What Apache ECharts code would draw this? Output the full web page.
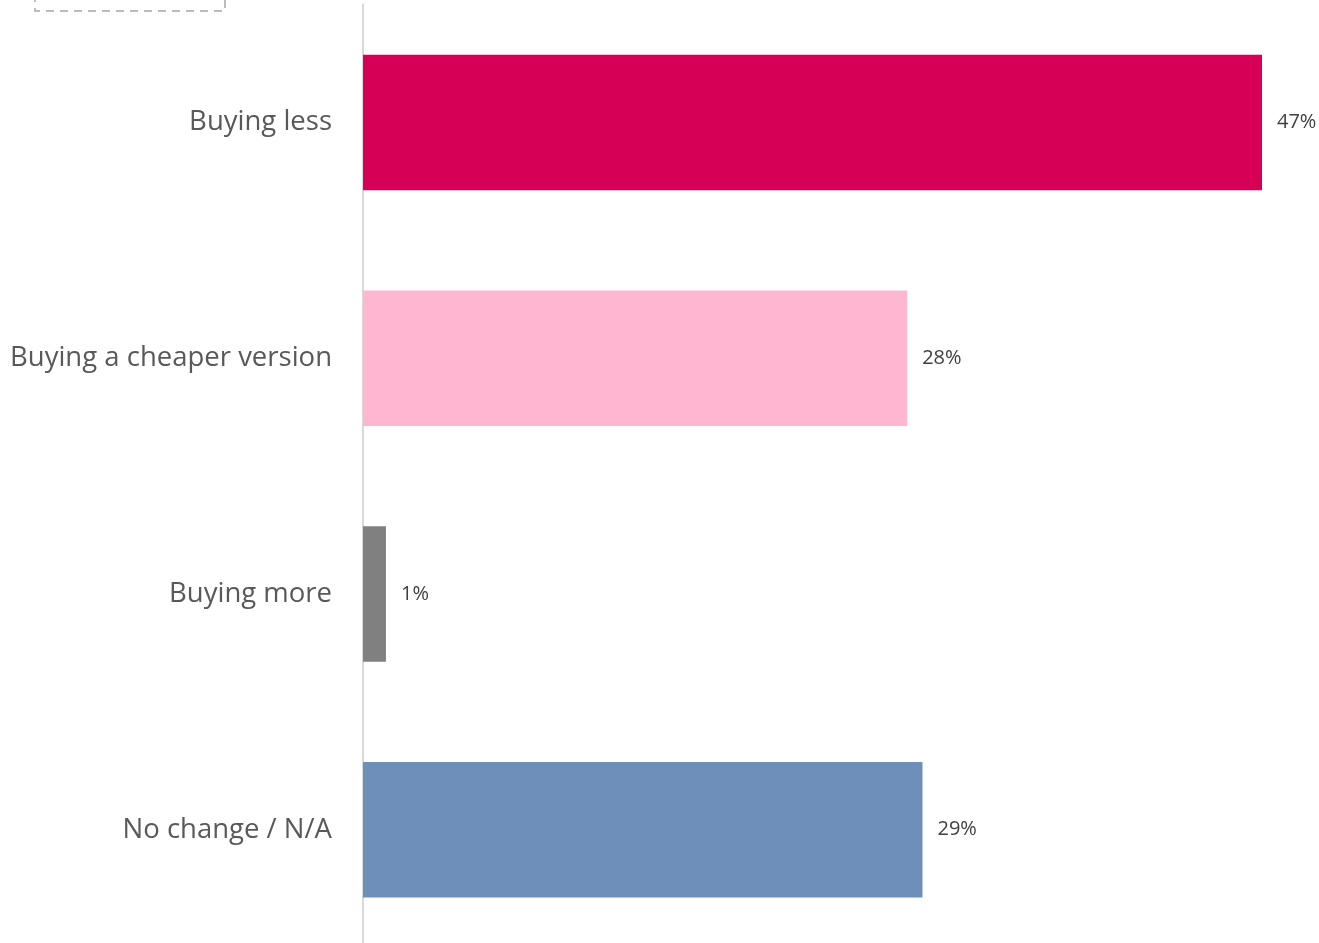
<!DOCTYPE html>
<html lang="en">
<head>
    <meta charset="UTF-8">
    <title>Buying behaviour</title>
    <script src="https://cdn.jsdelivr.net/npm/echarts@6/dist/echarts.min.js"></script>
    <style>
        html, body { margin: 0; padding: 0; background: #fff; overflow: hidden; }
    </style>
</head>
<body>
    <div id="main" style="width: 1319px;height:960px;"></div>

    <script type="text/javascript">
        // categories top to bottom
        const categories = ['Buying less', 'Buying a cheaper version', 'Buying more', 'No change / N/A'];
        const values = [47, 28.45, 1.2, 29.25];
        const colors = ['#d60057', '#ffb6d1', '#808080', '#6d8fb9'];

        const chart = echarts.init(document.getElementById('main'));

        const option = {
            animation: false,
            // chart area runs a little past the bottom of the window, as in the original
            grid: { left: 363, right: 57, top: 4.6, bottom: 12.4, containLabel: false },
            xAxis: {
                type: 'value',
                min: 0,
                max: 47,
                show: false
            },
            yAxis: {
                type: 'category',
                inverse: true,
                data: categories,
                axisLine: { show: true, lineStyle: { color: '#d9d9d9', width: 2 } },
                axisTick: { show: false },
                axisLabel: {
                    margin: 31,
                    fontSize: 27.5,
                    color: '#595959',
                    fontFamily: 'Open Sans',
                    padding: [4, 0, 0, 0]
                }
            },
            series: [{
                type: 'bar',
                barCategoryGap: '42.6%',
                data: values.map((v, i) => ({ value: v, itemStyle: { color: colors[i] } })),
                label: {
                    show: true,
                    position: 'right',
                    distance: 15,
                    fontSize: 20,
                    color: '#404040',
                    fontFamily: 'Open Sans',
                    padding: [5, 0, 0, 0],
                    formatter: p => Math.round(p.value) + '%'
                }
            }],
            graphic: [{
                type: 'rect',
                shape: { x: 35, y: -20, width: 190, height: 31 },
                style: { fill: 'none', stroke: '#a6a6a6', lineWidth: 1.5, lineDash: [8, 6] }
            }]
        };

        chart.setOption(option);
    </script>
</body>
</html>
